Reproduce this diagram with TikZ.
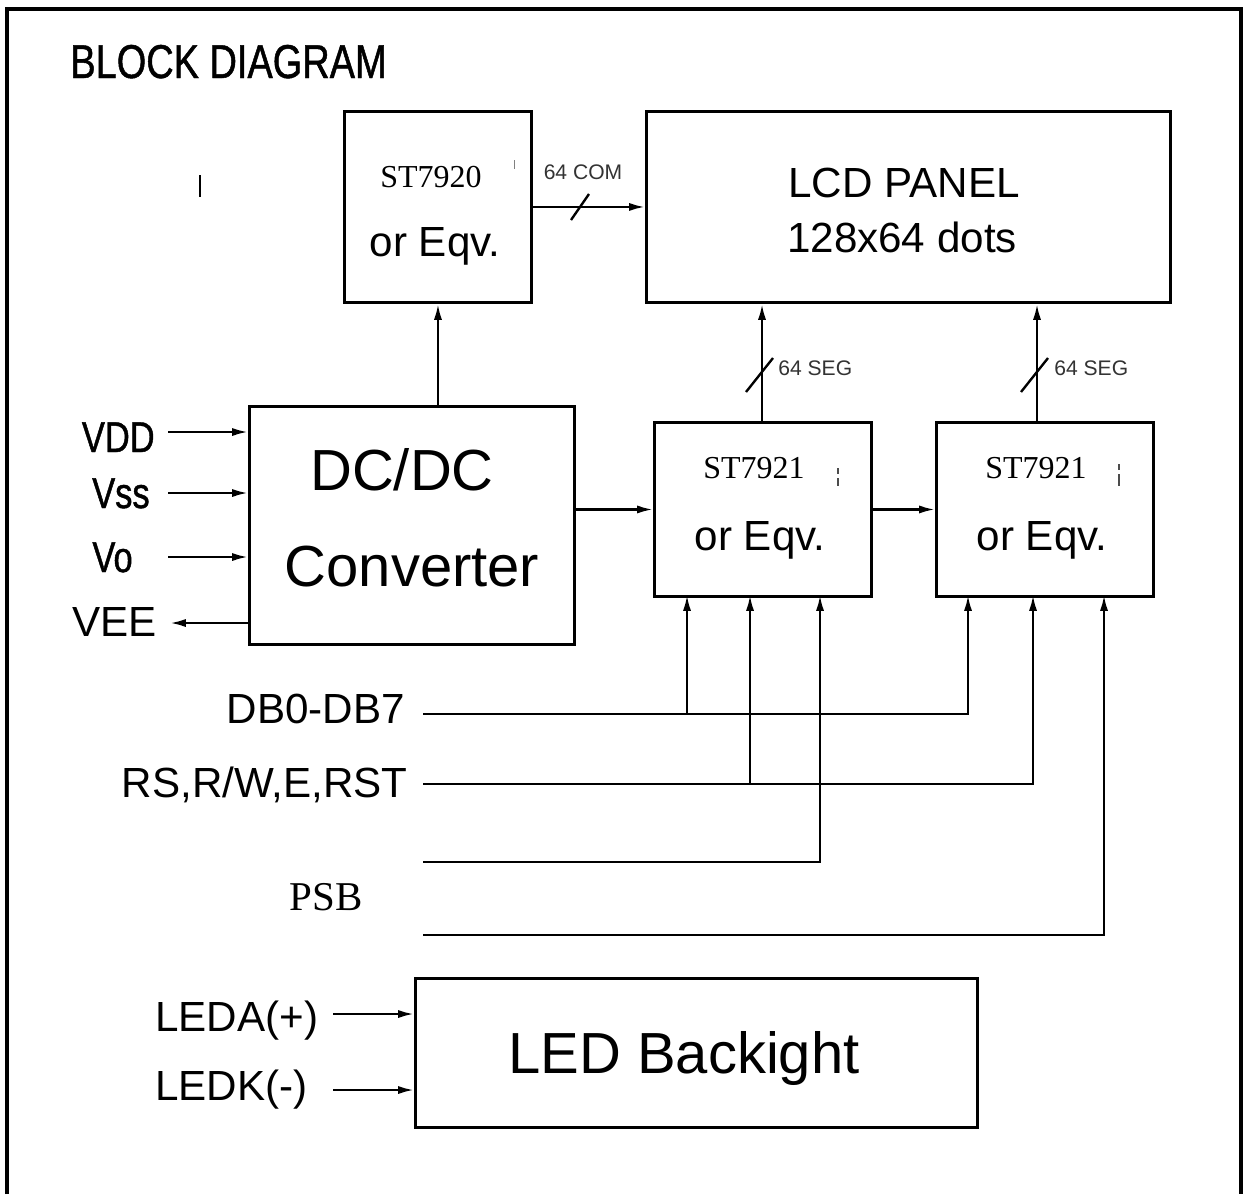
\documentclass[tikz,border=0pt]{standalone}
\usepackage{fontspec}
\setmainfont{Liberation Sans}
\newfontfamily\serifface{Liberation Serif}
\newfontfamily\narrowface[FakeStretch=0.8,FakeBold=1]{Liberation Sans}
\usetikzlibrary{arrows.meta}

\tikzset{
    block/.style={draw,line width=1.7pt,anchor=north west,inner sep=0pt},
    lbl/.style={inner sep=0pt},
    arr/.style={line width=1.35pt,-{Latex[length=9pt,width=4.6pt]}},
    wire/.style={line width=1.35pt},
}

\begin{document}
\begin{tikzpicture}[x=0.02cm,y=-0.02cm,font=\fontsize{24}{28}\selectfont]
    \useasboundingbox (0,0) rectangle (1243,1194);
    \draw[line width=2pt] (7,1194) -- (7,9) -- (1241,9) -- (1241,1194);
    \node[lbl,anchor=base west,font=\narrowface\fontsize{27}{30}\selectfont]
        (title) at (70,78) {BLOCK DIAGRAM};
    \draw[line width=1.2pt] (200,175) -- (200,197);

    \node[block,minimum width=3.74cm,minimum height=3.82cm] (drv) at (343,110) {};
    \node[block,minimum width=10.48cm,minimum height=3.82cm] (lcd) at (645,110) {};
    \node[block,minimum width=6.5cm,minimum height=4.76cm] (dcdc) at (248,405) {};
    \node[block,minimum width=4.34cm,minimum height=3.48cm] (chipa) at (653,421) {};
    \node[block,minimum width=4.34cm,minimum height=3.48cm] (chipb) at (935,421) {};
    \node[block,minimum width=11.24cm,minimum height=2.98cm] (led) at (414,977) {};

    \node[lbl,anchor=base,font=\serifface\fontsize{18.2}{20}\selectfont]
        (drvname) at (431,187) {ST7920};
    \node[lbl,anchor=base] (drveqv) at (435,256) {or Eqv.};
    \node[lbl,anchor=base] (lcdname) at (904,197) {LCD PANEL};
    \node[lbl,anchor=base] (lcddots) at (902,252) {128x64 dots};
    \node[lbl,anchor=base,font=\fontsize{33}{36}\selectfont]
        (dcdcname) at (402,490) {DC/DC};
    \node[lbl,anchor=base,font=\fontsize{33}{36}\selectfont]
        (dcdcconv) at (412,586) {Converter};
    \node[lbl,anchor=base,font=\serifface\fontsize{18.2}{20}\selectfont]
        (chipaname) at (754,478) {ST7921};
    \node[lbl,anchor=base] (chipaeqv) at (760,550) {or Eqv.};
    \node[lbl,anchor=base,font=\serifface\fontsize{18.2}{20}\selectfont]
        (chipbname) at (1036,478) {ST7921};
    \node[lbl,anchor=base] (chipbeqv) at (1042,550) {or Eqv.};
    \node[lbl,anchor=base,font=\fontsize{33}{36}\selectfont]
        (ledname) at (684,1073) {LED Backight};
    \draw[gray,line width=0.5pt] (514,160) -- (514,169);
    \draw[black!70,line width=0.8pt] (838,468) -- (838,474) (838,478) -- (838,486);
    \draw[black!70,line width=0.8pt] (1119,464) -- (1119,470) (1119,474) -- (1119,486);

    \draw[arr] (drv.east) -- (lcd.west);
    \draw[wire] (571,220) -- (589,194);
    \node[lbl,font=\fontsize{12}{14}\selectfont,text=black!80] (com) at (583,172) {64 COM};
    \draw[arr] (dcdc.north -| drv.south) -- (drv.south);
    \draw[arr] (dcdc.east |- chipa.west) -- (chipa.west);
    \draw[arr] (chipa.east) -- (chipb.west);

    \coordinate (sega) at (762,421);
    \coordinate (segb) at (1037,421);
    \draw[arr] (sega) -- (sega |- lcd.south);
    \draw[arr] (segb) -- (segb |- lcd.south);
    \draw[wire] (746,392) -- (773,358);
    \draw[wire] (1021,392) -- (1048,358);
    \node[lbl,anchor=west,font=\fontsize{12}{14}\selectfont,text=black!80]
        (sega-lbl) at (778,368) {64 SEG};
    \node[lbl,anchor=west,font=\fontsize{12}{14}\selectfont,text=black!80]
        (segb-lbl) at (1054,368) {64 SEG};

    \node[lbl,anchor=base east,font=\narrowface\fontsize{24.5}{28}\selectfont]
        (vdd) at (155,452) {VDD};
    \node[lbl,anchor=base east,font=\narrowface\fontsize{24.5}{28}\selectfont]
        (vss) at (150,508) {Vss};
    \node[lbl,anchor=base east,font=\narrowface\fontsize{24.5}{28}\selectfont]
        (vo) at (133,572) {Vo};
    \node[lbl,anchor=base east] (vee) at (157,636) {VEE};
    \coordinate (vddin) at (168,432);
    \coordinate (vssin) at (168,493);
    \coordinate (voin) at (168,557);
    \coordinate (veeout) at (170,623);
    \draw[arr] (vddin) -- (vddin -| dcdc.west);
    \draw[arr] (vssin) -- (vssin -| dcdc.west);
    \draw[arr] (voin) -- (voin -| dcdc.west);
    \draw[arr] (veeout -| dcdc.west) -- (veeout);

    \coordinate (ina1) at (687,595);
    \coordinate (ina2) at (750,595);
    \coordinate (ina3) at (820,595);
    \coordinate (inb1) at (968,595);
    \coordinate (inb2) at (1033,595);
    \coordinate (inb3) at (1104,595);
    \coordinate (dbbus) at (423,714);
    \coordinate (ctlbus) at (423,784);
    \coordinate (psbbus) at (423,862);
    \coordinate (blbus) at (423,935);
    \node[lbl,anchor=base east] (dblbl) at (405,723) {DB0-DB7};
    \node[lbl,anchor=base east] (ctllbl) at (408,797) {RS,R/W,E,RST};
    \node[lbl,anchor=base,font=\serifface\fontsize{23.3}{26}\selectfont]
        (psblbl) at (326,910) {PSB};
    \draw[arr] (dbbus) -| (inb1);
    \draw[arr] (ina1 |- dbbus) -- (ina1);
    \draw[arr] (ctlbus) -| (inb2);
    \draw[arr] (ina2 |- ctlbus) -- (ina2);
    \draw[arr] (psbbus) -| (ina3);
    \draw[arr] (blbus) -| (inb3);

    \node[lbl,anchor=base west] (leda) at (155,1031) {LEDA(+)};
    \node[lbl,anchor=base west] (ledk) at (155,1100) {LEDK(-)};
    \coordinate (ledain) at (333,1014);
    \coordinate (ledkin) at (333,1090);
    \draw[arr] (ledain) -- (ledain -| led.west);
    \draw[arr] (ledkin) -- (ledkin -| led.west);
\end{tikzpicture}
\end{document}
